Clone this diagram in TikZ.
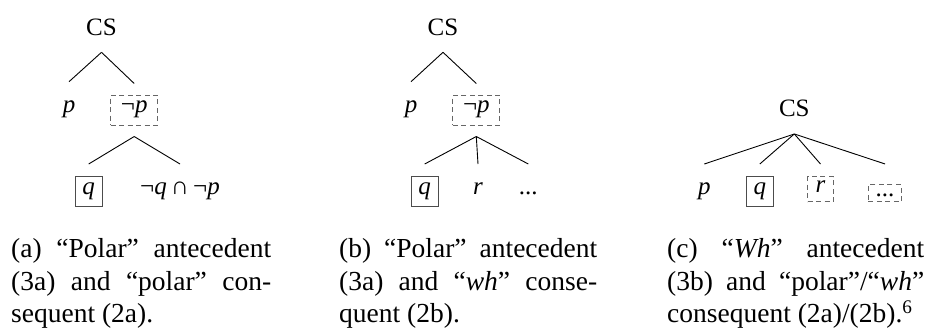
\documentclass[tikz,border=0pt]{standalone}
\usepackage{fontspec}
\setmainfont{Liberation Serif}
\begin{document}
\begin{tikzpicture}[x=1pt,y=-1pt,
 tree/.style={font=\fontsize{25pt}{30pt}\selectfont, inner sep=0pt},
 cslabel/.style={tree, text height=16.5pt, text depth=0pt, outer ysep=17.3pt},
 midnode/.style={tree, minimum height=30pt, text height=11.3pt, text depth=5.4pt, outer ysep=13.3pt},
 leaf/.style={tree, minimum height=30pt, text height=11.3pt, text depth=5.4pt, outer ysep=12.7pt},
 solidbox/.style={draw=black!70, line width=1pt},
 dashbox/.style={draw=black!60, line width=1pt, dash pattern=on 5pt off 3.5pt},
 branch/.style={line width=0.9pt},
 caption/.style={font=\fontsize{27.5pt}{32.5pt}\selectfont, inner sep=0pt, anchor=base west, align=left}
]
\useasboundingbox (0,0) rectangle (933,333);

% ---- tree (a)
\node[cslabel] (cs_a) at (101.5,26.75) {CS};
\node[midnode] (p_a) at (69,110) {\textit{p}};
\node[midnode, dashbox, minimum width=47pt, outer ysep=11.5pt] (np_a) at (134.2,110) {¬\textit{p}};
\node[leaf, solidbox, minimum width=27.3pt] (q_a) at (88.7,191.7) {\textit{q}};
\node[leaf] (nn_a) at (180,191.7) {¬\textit{q}\,∩\,¬\textit{p}};
\draw[branch] (cs_a.south) -- (p_a.north);
\draw[branch] (cs_a.south) -- (np_a.north);
\draw[branch] (np_a.south) -- (q_a.north);
\draw[branch] (np_a.south) -- (nn_a.north);

% ---- tree (b)
\node[cslabel] (cs_b) at (443,26.75) {CS};
\node[midnode] (p_b) at (411,110) {\textit{p}};
\node[midnode, dashbox, minimum width=47pt, outer ysep=11.5pt] (np_b) at (476.3,110) {¬\textit{p}};
\node[leaf, solidbox, minimum width=27.3pt] (q_b) at (424.7,191.7) {\textit{q}};
\node[leaf] (r_b) at (478,191.7) {\textit{r}};
\node[leaf] (d_b) at (528.3,191.7) {...};
\draw[branch] (cs_b.south) -- (p_b.north);
\draw[branch] (cs_b.south) -- (np_b.north);
\draw[branch] (np_b.south) -- (q_b.north);
\draw[branch] (np_b.south) -- (r_b.north);
\draw[branch] (np_b.south) -- (d_b.north);

% ---- tree (c)
\node[cslabel] (cs_c) at (794.3,108.4) {CS};
\node[leaf] (p_c) at (704.3,191.7) {\textit{p}};
\node[leaf, solidbox, minimum width=27.3pt] (q_c) at (759.8,191.7) {\textit{q}};
\node[leaf, dashbox, minimum width=26pt, minimum height=25pt, outer ysep=12.7pt] (r_c) at (820.5,189.2) {\textit{r}};
\node[leaf, dashbox, minimum width=33.4pt, minimum height=16.7pt, text height=8pt, text depth=2pt, outer ysep=21pt] (d_c) at (885,193.3) {...};
\draw[branch] (cs_c.south) -- (p_c.north);
\draw[branch] (cs_c.south) -- (q_c.north);
\draw[branch] (cs_c.south) -- (r_c.north);
\draw[branch] (cs_c.south) -- (d_c.north);

% ---- captions (anchor = baseline of the last line)
\node[caption] (cap_a) at (11,322.5) {\makebox[260pt][s]{(a) “Polar” antecedent}\\\makebox[260pt][s]{(3a) and “polar” con-}\\sequent (2a).};
\node[caption] (cap_b) at (339,322.5) {\makebox[258pt][s]{(b) “Polar” antecedent}\\\makebox[258pt][s]{(3a) and “\textit{wh}” conse-}\\quent (2b).};
\node[caption] (cap_c) at (667,322.5) {\makebox[257pt][s]{(c) “\textit{Wh}” antecedent}\\\makebox[257pt][s]{(3b) and “polar”/“\textit{wh}”}\\consequent (2a)/(2b).\textsuperscript{6}};
\end{tikzpicture}
\end{document}
